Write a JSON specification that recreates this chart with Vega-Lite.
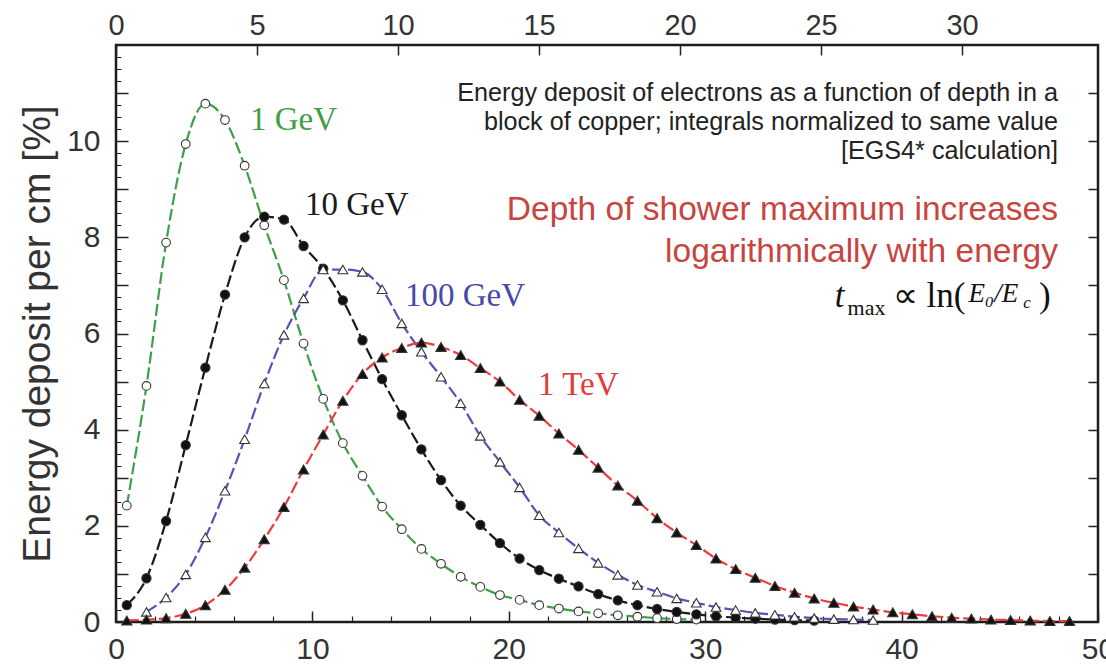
{
"$schema":"https://vega.github.io/schema/vega-lite/v6.json",
"width":982,"height":577,
"autosize":{"type":"none"},
"padding":{"left":116,"top":45,"right":8,"bottom":44},
"background":"white",
"config":{
  "view":{"stroke":"#1c1c1c","strokeWidth":2.5},
  "axis":{"grid":false,"domain":false,"labelFont":"Liberation Sans","labelColor":"#333333","tickColor":"#222222","titleFont":"Liberation Sans","titleColor":"#333333","titleFontWeight":"normal"}
},
"data":{"values":[
{"s":"1 GeV","x":0.55,"y":2.42},{"s":"1 GeV","x":1.55,"y":4.91},{"s":"1 GeV","x":2.55,"y":7.89},{"s":"1 GeV","x":3.55,"y":9.94},{"s":"1 GeV","x":4.55,"y":10.78},{"s":"1 GeV","x":5.55,"y":10.44},{"s":"1 GeV","x":6.55,"y":9.49},{"s":"1 GeV","x":7.55,"y":8.25},{"s":"1 GeV","x":8.55,"y":7.11},{"s":"1 GeV","x":9.55,"y":5.79},{"s":"1 GeV","x":10.55,"y":4.64},{"s":"1 GeV","x":11.55,"y":3.72},{"s":"1 GeV","x":12.55,"y":3.04},{"s":"1 GeV","x":13.55,"y":2.40},{"s":"1 GeV","x":14.55,"y":1.93},{"s":"1 GeV","x":15.55,"y":1.52},{"s":"1 GeV","x":16.55,"y":1.21},{"s":"1 GeV","x":17.55,"y":0.94},{"s":"1 GeV","x":18.55,"y":0.73},{"s":"1 GeV","x":19.55,"y":0.56},{"s":"1 GeV","x":20.55,"y":0.46},{"s":"1 GeV","x":21.55,"y":0.35},{"s":"1 GeV","x":22.55,"y":0.28},{"s":"1 GeV","x":23.55,"y":0.22},{"s":"1 GeV","x":24.55,"y":0.18},{"s":"1 GeV","x":25.55,"y":0.14},{"s":"1 GeV","x":26.55,"y":0.11},{"s":"1 GeV","x":27.55,"y":0.08},{"s":"1 GeV","x":28.55,"y":0.06},{"s":"1 GeV","x":29.55,"y":0.05},
{"s":"10 GeV","x":0.55,"y":0.35},{"s":"10 GeV","x":1.55,"y":0.91},{"s":"10 GeV","x":2.55,"y":2.10},{"s":"10 GeV","x":3.55,"y":3.68},{"s":"10 GeV","x":4.55,"y":5.29},{"s":"10 GeV","x":5.55,"y":6.81},{"s":"10 GeV","x":6.55,"y":8.00},{"s":"10 GeV","x":7.55,"y":8.43},{"s":"10 GeV","x":8.55,"y":8.37},{"s":"10 GeV","x":9.55,"y":7.82},{"s":"10 GeV","x":10.55,"y":7.35},{"s":"10 GeV","x":11.55,"y":6.69},{"s":"10 GeV","x":12.55,"y":5.86},{"s":"10 GeV","x":13.55,"y":5.05},{"s":"10 GeV","x":14.55,"y":4.30},{"s":"10 GeV","x":15.55,"y":3.59},{"s":"10 GeV","x":16.55,"y":2.95},{"s":"10 GeV","x":17.55,"y":2.42},{"s":"10 GeV","x":18.55,"y":2.02},{"s":"10 GeV","x":19.55,"y":1.64},{"s":"10 GeV","x":20.55,"y":1.32},{"s":"10 GeV","x":21.55,"y":1.08},{"s":"10 GeV","x":22.55,"y":0.90},{"s":"10 GeV","x":23.55,"y":0.74},{"s":"10 GeV","x":24.55,"y":0.58},{"s":"10 GeV","x":25.55,"y":0.45},{"s":"10 GeV","x":26.55,"y":0.35},{"s":"10 GeV","x":27.55,"y":0.27},{"s":"10 GeV","x":28.55,"y":0.21},{"s":"10 GeV","x":29.55,"y":0.16},{"s":"10 GeV","x":30.55,"y":0.12},{"s":"10 GeV","x":31.55,"y":0.09},{"s":"10 GeV","x":32.55,"y":0.07},{"s":"10 GeV","x":33.55,"y":0.05},{"s":"10 GeV","x":34.55,"y":0.04},{"s":"10 GeV","x":35.55,"y":0.03},
{"s":"100 GeV","x":1.55,"y":0.21},{"s":"100 GeV","x":2.55,"y":0.51},{"s":"100 GeV","x":3.55,"y":0.99},{"s":"100 GeV","x":4.55,"y":1.76},{"s":"100 GeV","x":5.55,"y":2.73},{"s":"100 GeV","x":6.55,"y":3.80},{"s":"100 GeV","x":7.55,"y":4.96},{"s":"100 GeV","x":8.55,"y":5.97},{"s":"100 GeV","x":9.55,"y":6.73},{"s":"100 GeV","x":10.55,"y":7.33},{"s":"100 GeV","x":11.55,"y":7.33},{"s":"100 GeV","x":12.55,"y":7.28},{"s":"100 GeV","x":13.55,"y":6.92},{"s":"100 GeV","x":14.55,"y":6.21},{"s":"100 GeV","x":15.55,"y":5.62},{"s":"100 GeV","x":16.55,"y":5.10},{"s":"100 GeV","x":17.55,"y":4.55},{"s":"100 GeV","x":18.55,"y":3.87},{"s":"100 GeV","x":19.55,"y":3.33},{"s":"100 GeV","x":20.55,"y":2.80},{"s":"100 GeV","x":21.55,"y":2.22},{"s":"100 GeV","x":22.55,"y":1.86},{"s":"100 GeV","x":23.55,"y":1.53},{"s":"100 GeV","x":24.55,"y":1.23},{"s":"100 GeV","x":25.55,"y":0.98},{"s":"100 GeV","x":26.55,"y":0.77},{"s":"100 GeV","x":27.55,"y":0.63},{"s":"100 GeV","x":28.55,"y":0.49},{"s":"100 GeV","x":29.55,"y":0.40},{"s":"100 GeV","x":30.55,"y":0.31},{"s":"100 GeV","x":31.55,"y":0.25},{"s":"100 GeV","x":32.55,"y":0.19},{"s":"100 GeV","x":33.55,"y":0.15},{"s":"100 GeV","x":34.55,"y":0.11},{"s":"100 GeV","x":35.55,"y":0.08},{"s":"100 GeV","x":36.55,"y":0.06},{"s":"100 GeV","x":37.55,"y":0.05},{"s":"100 GeV","x":38.55,"y":0.04},
{"s":"1 TeV","x":0.55,"y":0.03},{"s":"1 TeV","x":1.55,"y":0.05},{"s":"1 TeV","x":2.55,"y":0.08},{"s":"1 TeV","x":3.55,"y":0.17},{"s":"1 TeV","x":4.55,"y":0.35},{"s":"1 TeV","x":5.55,"y":0.67},{"s":"1 TeV","x":6.55,"y":1.13},{"s":"1 TeV","x":7.55,"y":1.72},{"s":"1 TeV","x":8.55,"y":2.39},{"s":"1 TeV","x":9.55,"y":3.17},{"s":"1 TeV","x":10.55,"y":3.90},{"s":"1 TeV","x":11.55,"y":4.60},{"s":"1 TeV","x":12.55,"y":5.16},{"s":"1 TeV","x":13.55,"y":5.50},{"s":"1 TeV","x":14.55,"y":5.70},{"s":"1 TeV","x":15.55,"y":5.81},{"s":"1 TeV","x":16.55,"y":5.72},{"s":"1 TeV","x":17.55,"y":5.55},{"s":"1 TeV","x":18.55,"y":5.28},{"s":"1 TeV","x":19.55,"y":5.00},{"s":"1 TeV","x":20.55,"y":4.62},{"s":"1 TeV","x":21.55,"y":4.29},{"s":"1 TeV","x":22.55,"y":3.92},{"s":"1 TeV","x":23.55,"y":3.58},{"s":"1 TeV","x":24.55,"y":3.21},{"s":"1 TeV","x":25.55,"y":2.84},{"s":"1 TeV","x":26.55,"y":2.52},{"s":"1 TeV","x":27.55,"y":2.16},{"s":"1 TeV","x":28.55,"y":1.86},{"s":"1 TeV","x":29.55,"y":1.60},{"s":"1 TeV","x":30.55,"y":1.32},{"s":"1 TeV","x":31.55,"y":1.10},{"s":"1 TeV","x":32.55,"y":0.92},{"s":"1 TeV","x":33.55,"y":0.75},{"s":"1 TeV","x":34.55,"y":0.61},{"s":"1 TeV","x":35.55,"y":0.49},{"s":"1 TeV","x":36.55,"y":0.40},{"s":"1 TeV","x":37.55,"y":0.32},{"s":"1 TeV","x":38.55,"y":0.26},{"s":"1 TeV","x":39.55,"y":0.20},{"s":"1 TeV","x":40.55,"y":0.16},{"s":"1 TeV","x":41.55,"y":0.12},{"s":"1 TeV","x":42.55,"y":0.09},{"s":"1 TeV","x":43.55,"y":0.07},{"s":"1 TeV","x":44.55,"y":0.05},{"s":"1 TeV","x":45.55,"y":0.04},{"s":"1 TeV","x":46.55,"y":0.03},{"s":"1 TeV","x":47.55,"y":0.02},{"s":"1 TeV","x":48.55,"y":0.02}
]},
"layer":[
 {"mark":{"type":"line","strokeDash":[12,4],"strokeWidth":2.2,"interpolate":"monotone"},
  "encoding":{
    "x":{"field":"x","type":"quantitative","scale":{"domain":[0,50],"nice":false,"zero":false},
         "axis":{"orient":"bottom","values":[0,10,20,30,40,50],"tickSize":-11,"tickWidth":1.5,"labelFontSize":30,"labelPadding":23,"labelFlush":false,"labelOverlap":false,"title":null}},
    "y":{"field":"y","type":"quantitative","scale":{"domain":[0,12],"nice":false},
         "axis":{"orient":"left","values":[0,1,2,3,4,5,6,7,8,9,10,11],"labelExpr":"datum.value % 2 === 0 ? datum.label : ''","tickSize":-12,"tickWidth":1.5,"labelFontSize":30,"labelPadding":28,"labelOverlap":false,"title":"Energy deposit per cm [%]","titleFontSize":39,"titlePadding":9}},
    "color":{"field":"s","type":"nominal","scale":{"domain":["1 GeV","10 GeV","100 GeV","1 TeV"],"range":["#3f9f46","#1a1a1a","#5a50b4","#ee3b3b"]},"legend":null}
  }},
 {"mark":{"type":"point","filled":true,"stroke":"#333333","strokeWidth":1.1,"opacity":1},
  "encoding":{
    "x":{"field":"x","type":"quantitative","axis":{"orient":"bottom","values":[2,4,6,8,12,14,16,18,22,24,26,28,32,34,36,38,42,44,46,48],"tickSize":-6,"tickWidth":1.2,"labels":false,"title":null}},
    "y":{"field":"y","type":"quantitative","axis":{"orient":"left","values":[0.25,0.5,0.75,1.25,1.5,1.75,2.25,2.5,2.75,3.25,3.5,3.75,4.25,4.5,4.75,5.25,5.5,5.75,6.25,6.5,6.75,7.25,7.5,7.75,8.25,8.5,8.75,9.25,9.5,9.75,10.25,10.5,10.75,11.25,11.5,11.75],"tickSize":-5,"tickWidth":1,"labels":false,"title":null}},
    "shape":{"field":"s","type":"nominal","scale":{"domain":["1 GeV","10 GeV","100 GeV","1 TeV"],"range":["circle","circle","triangle-up","triangle-up"]},"legend":null},
    "fill":{"field":"s","type":"nominal","scale":{"domain":["1 GeV","10 GeV","100 GeV","1 TeV"],"range":["#ffffff","#111111","#ffffff","#111111"]},"legend":null},
    "size":{"field":"s","type":"nominal","scale":{"domain":["1 GeV","10 GeV","100 GeV","1 TeV"],"range":[75,105,50,60]},"legend":null}
  }},
 {"mark":{"type":"point","opacity":0},
  "encoding":{
    "x":{"field":"x","type":"quantitative","axis":{"orient":"top","values":[0,7.18,14.36,21.54,28.72,35.9,43.08],"labelExpr":"'' + round(datum.value / 1.436)","tickSize":-10,"tickWidth":1.5,"labelFontSize":29,"labelPadding":15,"labelFlush":false,"labelOverlap":false,"title":null}},
    "y":{"field":"y","type":"quantitative","axis":{"orient":"right","values":[1,2,3,4,5,6,7,8,9,10,11],"tickSize":-10,"tickWidth":1.5,"labels":false,"title":null}}
  }},
 {"data":{"values":[{}]},"mark":{"type":"text","text":"1 GeV","font":"Liberation Serif","fontSize":33,"color":"#3f9f46","align":"left","baseline":"middle"},
  "encoding":{"x":{"datum":6.82,"type":"quantitative","axis":null},"y":{"datum":10.44,"type":"quantitative","axis":null}}},
 {"data":{"values":[{}]},"mark":{"type":"text","text":"10 GeV","font":"Liberation Serif","fontSize":33,"color":"#1a1a1a","align":"left","baseline":"middle"},
  "encoding":{"x":{"datum":9.62,"type":"quantitative","axis":null},"y":{"datum":8.67,"type":"quantitative","axis":null}}},
 {"data":{"values":[{}]},"mark":{"type":"text","text":"100 GeV","font":"Liberation Serif","fontSize":33,"color":"#4848a8","align":"left","baseline":"middle"},
  "encoding":{"x":{"datum":14.71,"type":"quantitative","axis":null},"y":{"datum":6.78,"type":"quantitative","axis":null}}},
 {"data":{"values":[{}]},"mark":{"type":"text","text":"1 TeV","font":"Liberation Serif","fontSize":33,"color":"#e23b3b","align":"left","baseline":"middle"},
  "encoding":{"x":{"datum":21.49,"type":"quantitative","axis":null},"y":{"datum":4.93,"type":"quantitative","axis":null}}},
 {"data":{"values":[{}]},"mark":{"type":"text","text":["Energy deposit of electrons as a function of depth in a","block of copper; integrals normalized to same value","[EGS4* calculation]"],"font":"Liberation Sans","fontSize":25.2,"lineHeight":29,"color":"#222222","align":"right","baseline":"alphabetic"},
  "encoding":{"x":{"datum":47.96,"type":"quantitative","axis":null},"y":{"datum":10.83,"type":"quantitative","axis":null}}},
 {"data":{"values":[{}]},"mark":{"type":"text","text":["Depth of shower maximum increases","logarithmically with energy"],"font":"Liberation Sans","fontSize":33.5,"lineHeight":42,"color":"#c8453f","align":"right","baseline":"alphabetic"},
  "encoding":{"x":{"datum":47.96,"type":"quantitative","axis":null},"y":{"datum":8.36,"type":"quantitative","axis":null}}},
 {"data":{"values":[{}]},"mark":{"type":"text","text":"t","font":"Liberation Serif","fontStyle":"italic","fontSize":35,"color":"#111111","align":"left","baseline":"alphabetic"},
  "encoding":{"x":{"datum":36.6,"type":"quantitative","axis":null},"y":{"datum":6.55,"type":"quantitative","axis":null}}},
 {"data":{"values":[{}]},"mark":{"type":"text","text":"max","font":"Liberation Serif","fontSize":22,"color":"#111111","align":"left","baseline":"alphabetic"},
  "encoding":{"x":{"datum":37.25,"type":"quantitative","axis":null},"y":{"datum":6.38,"type":"quantitative","axis":null}}},
 {"data":{"values":[{}]},"mark":{"type":"text","text":"∝ ln(","font":"Liberation Serif","fontSize":35,"color":"#111111","align":"left","baseline":"alphabetic"},
  "encoding":{"x":{"datum":39.55,"type":"quantitative","axis":null},"y":{"datum":6.55,"type":"quantitative","axis":null}}},
 {"data":{"values":[{}]},"mark":{"type":"text","text":"E₀/E","font":"Liberation Serif","fontStyle":"italic","fontSize":27,"color":"#111111","align":"left","baseline":"alphabetic"},
  "encoding":{"x":{"datum":43.4,"type":"quantitative","axis":null},"y":{"datum":6.66,"type":"quantitative","axis":null}}},
 {"data":{"values":[{}]},"mark":{"type":"text","text":"c","font":"Liberation Serif","fontStyle":"italic","fontSize":17,"color":"#111111","align":"left","baseline":"alphabetic"},
  "encoding":{"x":{"datum":46.2,"type":"quantitative","axis":null},"y":{"datum":6.53,"type":"quantitative","axis":null}}},
 {"data":{"values":[{}]},"mark":{"type":"text","text":")","font":"Liberation Serif","fontSize":35,"color":"#111111","align":"left","baseline":"alphabetic"},
  "encoding":{"x":{"datum":47.0,"type":"quantitative","axis":null},"y":{"datum":6.55,"type":"quantitative","axis":null}}}
],
"resolve":{"axis":{"x":"independent","y":"independent"}}
}
